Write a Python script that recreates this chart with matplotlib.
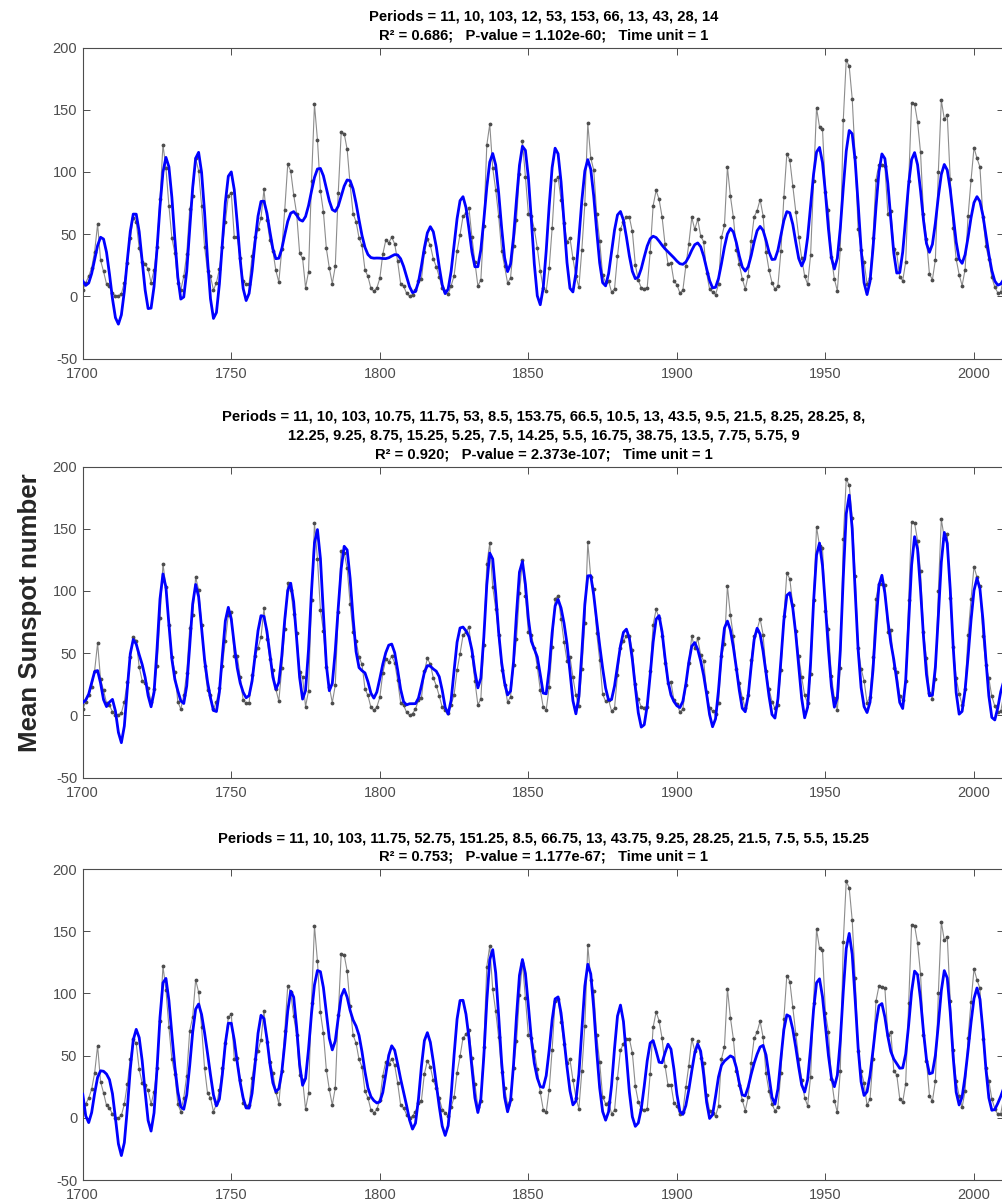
import numpy as np
import matplotlib
matplotlib.use("Agg")
import matplotlib.pyplot as plt

plt.rcParams['font.family'] = ['Liberation Sans', 'DejaVu Sans']
plt.rcParams['axes.unicode_minus'] = False

# yearly mean sunspot numbers, 1700 - 2011
sunspots = [
    5, 11, 16, 23, 36, 58, 29, 20, 10, 8,
    3, 0, 0, 2, 11, 27, 47, 63, 60, 39,
    28, 26, 22, 11, 21, 40, 78, 122, 103, 73,
    47, 35, 11, 5, 16, 34, 70, 81, 111, 101,
    73, 40, 20, 16, 5, 11, 22, 40, 60, 80.9,
    83.4, 47.7, 47.8, 30.7, 12.2, 9.6, 10.2, 32.4, 47.6, 54.0,
    62.9, 85.9, 61.2, 45.1, 36.4, 20.9, 11.4, 37.8, 69.8, 106.1,
    100.8, 81.6, 66.5, 34.8, 30.6, 7.0, 19.8, 92.5, 154.4, 125.9,
    84.8, 68.1, 38.5, 22.8, 10.2, 24.1, 82.9, 132.0, 130.9, 118.1,
    89.9, 66.6, 60.0, 46.9, 41.0, 21.3, 16.0, 6.4, 4.1, 6.8,
    14.5, 34.0, 45.0, 43.1, 47.5, 42.2, 28.1, 10.1, 8.1, 2.5,
    0.0, 1.4, 5.0, 12.2, 13.9, 35.4, 45.8, 41.1, 30.1, 23.9,
    15.6, 6.6, 4.0, 1.8, 8.5, 16.6, 36.3, 49.6, 64.2, 67.0,
    70.9, 47.8, 27.5, 8.5, 13.2, 56.9, 121.5, 138.3, 103.2, 85.7,
    64.6, 36.7, 24.2, 10.7, 15.0, 40.1, 61.5, 98.5, 124.7, 96.3,
    66.6, 64.5, 54.1, 39.0, 20.6, 6.7, 4.3, 22.7, 54.8, 93.8,
    95.8, 77.2, 59.1, 44.0, 47.0, 30.5, 16.3, 7.3, 37.6, 74.0,
    139.0, 111.2, 101.6, 66.2, 44.7, 17.0, 11.3, 12.4, 3.4, 6.0,
    32.3, 54.3, 59.7, 63.7, 63.5, 52.2, 25.4, 13.1, 6.8, 6.3,
    7.1, 35.6, 73.0, 85.1, 78.0, 64.0, 41.8, 26.2, 26.7, 12.1,
    9.5, 2.7, 5.0, 24.4, 42.0, 63.5, 53.8, 62.0, 48.5, 43.9,
    18.6, 5.7, 3.6, 1.4, 9.6, 47.4, 57.1, 103.9, 80.6, 63.6,
    37.6, 26.1, 14.2, 5.8, 16.7, 44.3, 63.9, 69.0, 77.8, 64.9,
    35.7, 21.2, 11.1, 5.7, 8.7, 36.1, 79.7, 114.4, 109.6, 88.8,
    67.8, 47.5, 30.6, 16.3, 9.6, 33.2, 92.6, 151.6, 136.3, 134.7,
    83.9, 69.4, 31.5, 13.9, 4.4, 38.0, 141.7, 190.2, 184.8, 159.0,
    112.3, 53.9, 37.5, 27.9, 10.2, 15.1, 47.0, 93.8, 105.9, 105.5,
    104.5, 66.6, 68.9, 38.0, 34.5, 15.5, 12.6, 27.5, 92.5, 155.4,
    154.6, 140.4, 115.9, 66.6, 45.9, 17.9, 13.4, 29.4, 100.2, 157.6,
    142.6, 145.7, 94.3, 54.6, 29.9, 17.5, 8.6, 21.5, 64.3, 93.3,
    119.6, 111.0, 104.0, 63.7, 40.4, 29.8, 15.2, 7.5, 2.9, 3.1,
    16.5, 55.7,
]
years = np.arange(1700, 1700 + len(sunspots))

periods_top = [11, 10, 103, 12, 53, 153, 66, 13, 43, 28, 14]
periods_mid = [11, 10, 103, 10.75, 11.75, 53, 8.5, 153.75, 66.5, 10.5, 13,
               43.5, 9.5, 21.5, 8.25, 28.25, 8, 12.25, 9.25, 8.75, 15.25,
               5.25, 7.5, 14.25, 5.5, 16.75, 38.75, 13.5, 7.75, 5.75, 9]
periods_bot = [11, 10, 103, 11.75, 52.75, 151.25, 8.5, 66.75, 13, 43.75,
               9.25, 28.25, 21.5, 7.5, 5.5, 15.25]

r2_text = ["0.686", "0.920", "0.753"]
pval_text = ["1.102e-60", "2.373e-107", "1.177e-67"]
title_breaks = [None, 17, None]


def harmonic_fit(t, y, periods):
    # least squares fit of a constant plus one sine/cosine pair per period
    cols = [np.ones_like(t)]
    for p in periods:
        w = 2 * np.pi * t / p
        cols += [np.cos(w), np.sin(w)]
    X = np.column_stack(cols)
    beta = np.linalg.lstsq(X, y, rcond=None)[0]
    return X @ beta


fig = plt.figure(figsize=(10.03, 12.04), dpi=100)
bottoms = [0.7022, 0.3542, 0.0199]
t = years.astype(float)
y = np.array(sunspots, dtype=float)

for i, per in enumerate([periods_top, periods_mid, periods_bot]):
    ax = fig.add_axes([0.0825, bottoms[i], 0.9185, 0.2583])
    yhat = harmonic_fit(t, y, per)
    ax.plot(t, y, color='0.55', lw=0.8, marker='.', ms=3.5,
            mfc='0.3', mec='0.3', zorder=2)
    ax.plot(t, yhat, color=(0, 0, 1), lw=2, zorder=3)

    ax.set_xlim(1700, 2010.1)
    ax.set_ylim(-50, 200)
    ax.set_xticks(np.arange(1700, 2001, 50))
    ax.set_yticks(np.arange(-50, 201, 50))
    ax.tick_params(direction='in', length=5, width=0.7, top=True, right=True,
                   labelsize=10.5, colors='0.3', pad=4)
    ax.tick_params(axis='x', pad=6)
    for s in ax.spines.values():
        s.set_color('0.3')
        s.set_linewidth(0.8)

    labels = [f"{p:g}" for p in per]
    if title_breaks[i]:
        k = title_breaks[i]
        line1 = "Periods = " + ", ".join(labels[:k]) + ",\n" + ", ".join(labels[k:])
    else:
        line1 = "Periods = " + ", ".join(labels)
    title = (line1 + "\nR² = " + r2_text[i]
             + ";   P-value = " + pval_text[i] + ";   Time unit = 1")
    ax.set_title(title, fontsize=10.6, fontweight='bold', pad=6, linespacing=1.42,
                 color='black')

fig.text(0.03, 0.491, "Mean Sunspot number", rotation=90, fontsize=18.6,
         fontweight='bold', ha='center', va='center', color='0.15')

fig.savefig("out.png")
